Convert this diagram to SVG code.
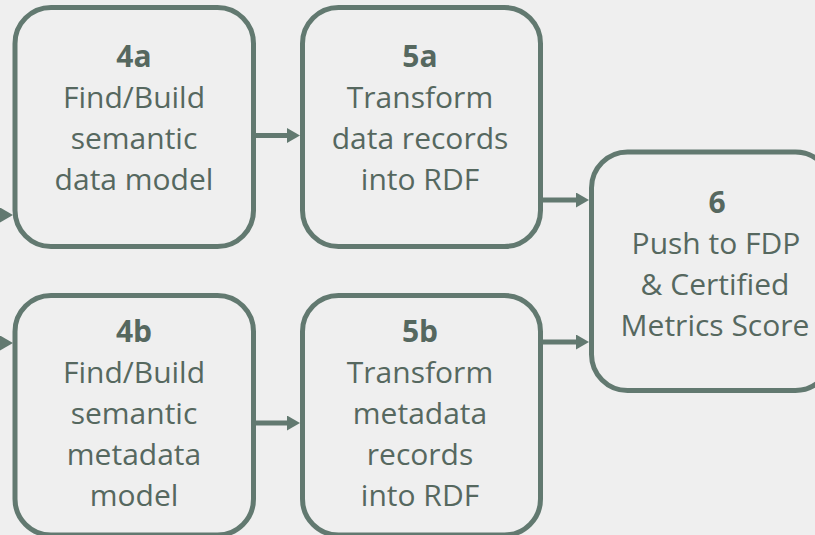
<svg xmlns="http://www.w3.org/2000/svg" width="815" height="535" viewBox="0 0 815 535">
  <defs>
    <style>
      .box { fill: #efefef; stroke: #627970; stroke-width: 5; }
      .lbl { font-family: "Open Sans", "Liberation Sans", sans-serif; font-size: 30px; fill: #56685f; text-anchor: middle; }
      .num { font-weight: bold; }
      .conn { fill: none; stroke: #627970; stroke-width: 5; marker-end: url(#head); }
    </style>
    <!-- triangular arrowhead; line ends 10px before the tip -->
    <marker id="head" markerUnits="userSpaceOnUse" viewBox="0 0 13 15" refX="3" refY="7.5" markerWidth="13" markerHeight="15" orient="auto">
      <path d="M0,0 L13,7.5 L0,15 Z" fill="#627970"/>
    </marker>
  </defs>

  <rect width="815" height="535" fill="#efefef"/>

  <g id="connectors">
    <path class="conn" d="M-20,215 L3,215"/>
    <path class="conn" d="M-20,343 L3,343"/>
    <path class="conn" d="M255,135.5 L290,135.5"/>
    <path class="conn" d="M255,423 L290,423"/>
    <path class="conn" d="M542,200 L579,200"/>
    <path class="conn" d="M542,342 L579,342"/>
  </g>

  <g id="node-4a">
    <rect class="box" x="15" y="7.5" width="238.5" height="239" rx="36"/>
    <text class="lbl" x="134" y="67"><tspan class="num">4a</tspan></text>
    <text class="lbl" x="134" y="108">Find/Build</text>
    <text class="lbl" x="134" y="149">semantic</text>
    <text class="lbl" x="134" y="190">data model</text>
  </g>

  <g id="node-5a">
    <rect class="box" x="302.5" y="7.5" width="238" height="239" rx="36"/>
    <text class="lbl" x="420" y="67"><tspan class="num">5a</tspan></text>
    <text class="lbl" x="420" y="108">Transform</text>
    <text class="lbl" x="420" y="149">data records</text>
    <text class="lbl" x="420" y="190">into RDF</text>
  </g>

  <g id="node-4b">
    <rect class="box" x="15" y="295.5" width="238.5" height="239.5" rx="36"/>
    <text class="lbl" x="134" y="342"><tspan class="num">4b</tspan></text>
    <text class="lbl" x="134" y="383">Find/Build</text>
    <text class="lbl" x="134" y="424">semantic</text>
    <text class="lbl" x="134" y="465">metadata</text>
    <text class="lbl" x="134" y="506">model</text>
  </g>

  <g id="node-5b">
    <rect class="box" x="302.5" y="295.5" width="238" height="239.5" rx="36"/>
    <text class="lbl" x="420" y="342"><tspan class="num">5b</tspan></text>
    <text class="lbl" x="420" y="383">Transform</text>
    <text class="lbl" x="420" y="424">metadata</text>
    <text class="lbl" x="420" y="465">records</text>
    <text class="lbl" x="420" y="506">into RDF</text>
  </g>

  <g id="node-6">
    <rect class="box" x="591.5" y="152" width="240" height="238.5" rx="36"/>
    <text class="lbl" x="717" y="213"><tspan class="num">6</tspan></text>
    <text class="lbl" x="716" y="254">Push to FDP</text>
    <text class="lbl" x="715" y="295">&amp; Certified</text>
    <text class="lbl" x="715" y="336">Metrics Score</text>
  </g>
</svg>
